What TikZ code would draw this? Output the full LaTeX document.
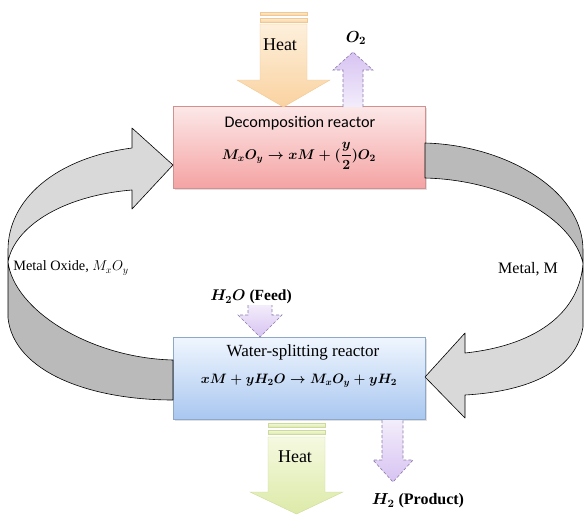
\RequirePackage{fix-cm}
\documentclass[tikz,border=0pt]{standalone}
\usepackage{amsmath}
\usepackage{fontspec}
\setmainfont{Liberation Serif}
\newfontfamily\calibri{Carlito}
\usetikzlibrary{shadows}

\definecolor{decompTop}{HTML}{FCE8E8}
\definecolor{decompBot}{HTML}{F5A3A3}
\definecolor{decompLine}{HTML}{D29090}
\definecolor{splitTop}{HTML}{F0F6FE}
\definecolor{splitBot}{HTML}{A9C7F0}
\definecolor{splitLine}{HTML}{8FA8C8}
\definecolor{heatTop}{HTML}{FDF0DC}
\definecolor{heatBot}{HTML}{FAD2A0}
\definecolor{heatLine}{HTML}{F2C890}
\definecolor{coolTop}{HTML}{F5F9E0}
\definecolor{coolBot}{HTML}{DCEAA8}
\definecolor{coolLine}{HTML}{CCDB9C}
\definecolor{gasFill}{HTML}{D7C3F2}
\definecolor{gasLine}{HTML}{8C7BAA}
\definecolor{bandLight}{HTML}{D9D9D9}
\definecolor{bandDark}{HTML}{BABABA}

\begin{document}
\begin{tikzpicture}[x=1pt, y=-1pt]

        \tikzset{
            reactor/.style={draw, minimum width=252pt, minimum height=82pt, inner sep=0pt,
                drop shadow={opacity=0.25, shadow xshift=1.5pt, shadow yshift=-1.5pt}},
            streamlabel/.style={font=\fontsize{16}{18}\selectfont, inner sep=1pt},
            band/.style={draw=black, line width=0.6pt, line join=round},
            gas/.style={draw=gasLine, dash pattern=on 3pt off 2pt, line width=0.6pt}
        }

        \useasboundingbox (0,0) rectangle (584,515);

        % reactors
        \node[reactor, draw=decompLine, top color=decompTop, bottom color=decompBot] (decomp) at (299,147) {};
        \node[reactor, draw=splitLine, top color=splitTop, bottom color=splitBot] (split) at (299,378) {};

        % metal oxide band, left side
        \draw[band, fill=bandDark] (8,262) -- (8,318) .. controls (14,372) and (90,400) .. (173,400)
            -- (173,360) .. controls (90,358) and (14,310) .. (8,262) -- cycle;
        \draw[band, fill=bandLight] (132,148) .. controls (55,158) and (8,200) .. (8,250) -- (8,262)
            .. controls (14,228) and (60,196) .. (132,190) -- (132,209) -- (173,165) -- (132,128) -- cycle;

        % metal band, right side
        \draw[band, fill=bandDark] (425,143) .. controls (505,145) and (583,190) .. (583,250) -- (583,263)
            .. controls (572,218) and (505,180) .. (425,178) -- cycle;
        \draw[band, fill=bandLight] (583,263) -- (583,327) .. controls (575,375) and (520,392) .. (465,395)
            -- (465,418) -- (425,377) -- (465,333) -- (465,353) .. controls (540,345) and (580,310) .. (583,263) -- cycle;

        % heat in
        \draw[draw=heatLine, top color=heatTop, bottom color=heatBot] (260,12) rectangle (307,15);
        \draw[draw=heatLine, top color=heatTop, bottom color=heatBot] (260,18) rectangle (307,22);
        \draw[draw=heatLine, top color=heatTop, bottom color=heatBot] (260,24) -- (307,24) -- (307,80)
            -- (330,80) -- (283.5,107) -- (237,80) -- (260,80) -- cycle;

        % heat out
        \draw[draw=coolLine, top color=coolTop, bottom color=coolBot] (268,423) rectangle (325,427);
        \draw[draw=coolLine, top color=coolTop, bottom color=coolBot] (268,430) rectangle (325,434);
        \draw[draw=coolLine, top color=coolTop, bottom color=coolBot] (268,437) -- (325,437) -- (325,492)
            -- (343,492) -- (296.5,514) -- (250,492) -- (268,492) -- cycle;

        % gas streams
        \draw[gas, top color=gasFill, bottom color=gasFill!30] (343,107) -- (343,70) -- (333,70) -- (353,52)
            -- (373,70) -- (363,70) -- (363,107);
        \draw[gas, top color=gasFill!30, bottom color=gasFill] (248,305) -- (248,315) -- (238,315) -- (260,337)
            -- (282,315) -- (272,315) -- (272,305);
        \draw[gas, top color=gasFill!30, bottom color=gasFill] (382,420) -- (382,460) -- (373,460) -- (393,482)
            -- (413,460) -- (403,460) -- (403,420);

        % reactor texts
        \node (decompname) at (300,123) {\calibri\fontsize{16.2}{18}\selectfont Decomposition reactor};
        \node[font=\fontsize{14}{16}\selectfont] (decompeq) at (299,156)
            {$\boldsymbol{M_xO_y \rightarrow xM + (\dfrac{y}{2})O_2}$};
        \node[font=\fontsize{17}{19}\selectfont] (splitname) at (303,352) {Water-splitting reactor};
        \node[font=\fontsize{13.6}{16}\selectfont] (spliteq) at (299,381)
            {$\boldsymbol{xM + yH_2O \rightarrow M_xO_y + yH_2}$};

        % stream labels
        \node[streamlabel, font=\fontsize{18}{20}\selectfont] (heatin) at (280,45) {Heat};
        \node[streamlabel, font=\fontsize{18}{20}\selectfont] (heatout) at (295,457) {Heat};
        \node[streamlabel] (oxygen) at (356,38) {$\boldsymbol{O_2}$};
        \node[streamlabel, font=\fontsize{15.5}{17}\selectfont] (feed) at (251,297) {$\boldsymbol{H_2O}$ \textbf{(Feed)}};
        \node[streamlabel] (product) at (418,501) {$\boldsymbol{H_2}$ \textbf{(Product)}};
        \node[streamlabel, font=\fontsize{14.3}{16}\selectfont] (oxide) at (71,268) {Metal Oxide,\ $M_xO_y$};
        \node[streamlabel] (metal) at (528,269) {Metal, M};

    \end{tikzpicture}
\end{document}
